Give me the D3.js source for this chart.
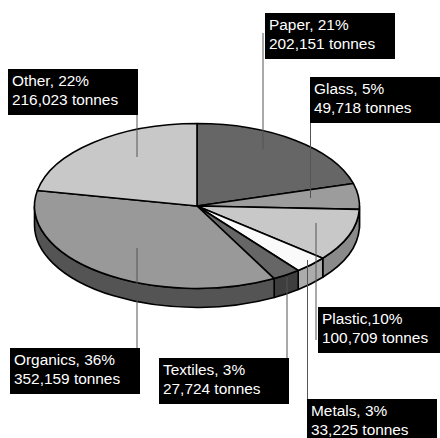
<!DOCTYPE html>
<html>
<head>
<meta charset="utf-8">
<script src="https://cdn.jsdelivr.net/npm/d3@7"></script>
<style>
  html, body { margin: 0; padding: 0; background: #fff; }
  svg { display: block; }
  text { font-family: "Liberation Sans", Arial, sans-serif; }
</style>
</head>
<body>
<svg id="chart" width="440" height="438"></svg>
<script>
// Waste composition by material (tonnes)
const categories = ["Paper", "Glass", "Plastic", "Metals", "Textiles", "Organics", "Other"];
const tonnes = [202151, 49718, 100709, 33225, 27724, 352159, 216023];
const titles = ["Paper, 21%", "Glass, 5%", "Plastic,10%", "Metals, 3%", "Textiles, 3%", "Organics, 36%", "Other, 22%"];

// Shades for the top faces and the visible rim of each slice
const topShades = ["#666666", "#9c9c9c", "#c8c8c8", "#fafafa", "#666666", "#999999", "#c8c8c8"];
const sideShades = ["#505050", "#787878", "#8a8a8a", "#acacac", "#3e3e3e", "#545454", "#8c8c8c"];

// Callout boxes: box corner and vertical leader (x, from y0 to y1)
const callouts = [
  { box: [265, 13], leader: [263, 33, 149] },
  { box: [310, 77], leader: [310.5, 100, 198] },
  { box: [318, 307], leader: [316, 223, 340] },
  { box: [307, 399], leader: [307.5, 260, 399] },
  { box: [159, 358], leader: [287, 277, 358] },
  { box: [10, 348], leader: [137, 248, 348] },
  { box: [8, 69], leader: [137, 114, 157] }
];

const svg = d3.select("#chart");
const cx = 197, cy = 206, rx = 162.5, ry = 82.5, depth = 19;

const topColor = d3.scaleOrdinal().domain(categories).range(topShades);
const sideColor = d3.scaleOrdinal().domain(categories).range(sideShades);

const arcs = d3.pie().sort(null).value(d => d)(tonnes)
  .map((a, i) => ({ ...a, name: categories[i], i }));

// d3 pie angle (0 at top, clockwise) -> ellipse parametric angle
const th = a => a - Math.PI / 2;
const pt = (t, dy = 0) => [cx + rx * Math.cos(t), cy + ry * Math.sin(t) + dy];

function topPath(a) {
  const t0 = th(a.startAngle), t1 = th(a.endAngle);
  const p0 = pt(t0), p1 = pt(t1);
  const large = (t1 - t0) > Math.PI ? 1 : 0;
  return `M${cx},${cy}L${p0}A${rx},${ry} 0 ${large} 1 ${p1}Z`;
}

function sidePath(a) {
  // only the front half of the rim (0..PI) is visible
  const t0 = Math.max(th(a.startAngle), 0), t1 = Math.min(th(a.endAngle), Math.PI);
  if (t1 <= t0) return null;
  const p0 = pt(t0), p1 = pt(t1), q1 = pt(t1, depth), q0 = pt(t0, depth);
  return `M${p0}A${rx},${ry} 0 0 1 ${p1}L${q1}A${rx},${ry} 0 0 0 ${q0}Z`;
}

const pie = svg.append("g");

pie.selectAll("path.side")
  .data(arcs.filter(a => sidePath(a)))
  .join("path")
  .attr("class", "side")
  .attr("d", sidePath)
  .attr("fill", a => sideColor(a.name))
  .attr("stroke", "#000")
  .attr("stroke-width", 1.6)
  .attr("stroke-linejoin", "round");

pie.selectAll("path.top")
  .data(arcs)
  .join("path")
  .attr("class", "top")
  .attr("d", topPath)
  .attr("fill", a => topColor(a.name))
  .attr("stroke", "#000")
  .attr("stroke-width", 1.6)
  .attr("stroke-linejoin", "round");

// Leader lines
svg.append("g").selectAll("line")
  .data(callouts)
  .join("line")
  .attr("x1", c => c.leader[0]).attr("x2", c => c.leader[0])
  .attr("y1", c => c.leader[1]).attr("y2", c => c.leader[2])
  .attr("stroke", "#555")
  .attr("stroke-width", 1);

// Callout boxes
const fmt = d3.format(",");
const labels = svg.append("g").selectAll("g")
  .data(arcs)
  .join("g")
  .attr("transform", a => `translate(${callouts[a.i].box})`);

labels.append("rect")
  .attr("width", 130).attr("height", 46)
  .attr("fill", "#000");

labels.append("text")
  .attr("x", 4).attr("y", 16.5)
  .attr("fill", "#fff")
  .style("font-size", "15.4px")
  .text(a => titles[a.i]);

labels.append("text")
  .attr("x", 4).attr("y", 35.5)
  .attr("fill", "#fff")
  .style("font-size", "15.4px")
  .text(a => `${fmt(a.data)} tonnes`);
</script>
</body>
</html>
